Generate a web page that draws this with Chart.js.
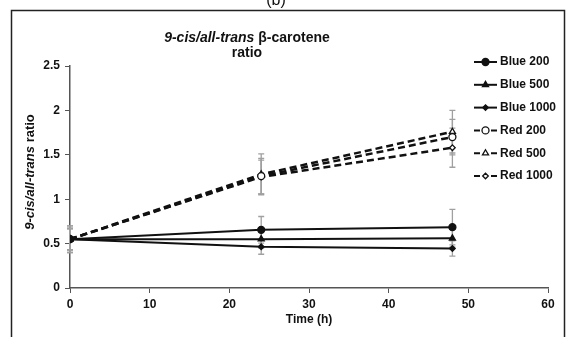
<!DOCTYPE html>
<html>
<head>
<meta charset="utf-8">
<script src="https://cdn.jsdelivr.net/npm/chart.js@4.4.1/dist/chart.umd.min.js"></script>
<style>
  html, body { margin: 0; padding: 0; background: #fff; }
  #wrap { width: 567px; height: 337px; position: relative; }
</style>
</head>
<body>
<div id="wrap"><canvas id="ratioChart" width="567" height="337"></canvas></div>
<script>
// temps de prelevement (h)
var heures = [0, 24, 48];

// rapport 9-cis / all-trans
var blue200 = [0.55, 0.655, 0.685];
var blue500 = [0.55, 0.55, 0.56];
var blue1000 = [0.55, 0.465, 0.445];
var red200 = [0.55, 1.26, 1.70];
var red500 = [0.55, 1.28, 1.76];
var red1000 = [0.55, 1.25, 1.58];

// barres d'erreur (+/-)
var errBlue200 = [0.15, 0.15, 0.2];
var errBlue500 = [0.12, 0.1, 0.1];
var errBlue1000 = [0.12, 0.085, 0.085];
var errRed200 = [0.15, 0.2, 0.2];
var errRed500 = [0.12, 0.23, 0.24];
var errRed1000 = [0.12, 0.19, 0.22];

var xTicks = [0, 10, 20, 30, 40, 50, 60];
var yTicks = [0, 0.5, 1, 1.5, 2, 2.5];

var POLICE = '"Liberation Sans", Arial, sans-serif';

function points(valeurs) {
    var res = [];
    for (var i = 0; i < heures.length; i++) {
        res.push({ x: heures[i], y: valeurs[i] });
    }
    return res;
}

function serie(label, valeurs, erreurs, forme, taille, plein, pointille) {
    return {
        label: label,
        data: points(valeurs),
        erreurs: erreurs,
        borderColor: '#111',
        backgroundColor: plein ? '#111' : '#fff',
        borderWidth: pointille ? 2.5 : 2,
        borderDash: pointille ? [7, 4] : [],
        pointStyle: forme,
        pointRadius: taille,
        pointBorderWidth: 1.3,
        pointBorderColor: '#111',
        pointBackgroundColor: plein ? '#111' : '#fff',
        tension: 0,
        fill: false
    };
}

var datasets = [
    serie('Blue 200', blue200, errBlue200, 'circle', 3.5, true, false),
    serie('Blue 500', blue500, errBlue500, 'triangle', 3.5, true, false),
    serie('Blue 1000', blue1000, errBlue1000, 'rectRot', 2.8, true, false),
    serie('Red 200', red200, errRed200, 'circle', 3.5, false, true),
    serie('Red 500', red500, errRed500, 'triangle', 3.5, false, true),
    serie('Red 1000', red1000, errRed1000, 'rectRot', 2.8, false, true)
];

//------------------------------- barres d'erreur --------------------------------
var barresErreur = {
    id: 'barresErreur',
    beforeDatasetsDraw: function (chart) {
        var ctx = chart.ctx;
        var sx = chart.scales.x, sy = chart.scales.y;
        ctx.save();
        ctx.strokeStyle = '#a0a0a0';
        ctx.lineWidth = 1.3;
        chart.data.datasets.forEach(function (ds) {
            ds.data.forEach(function (p, i) {
                var e = ds.erreurs[i];
                var px = sx.getPixelForValue(p.x);
                var haut = sy.getPixelForValue(p.y + e);
                var bas = sy.getPixelForValue(p.y - e);
                ctx.beginPath();
                ctx.moveTo(px, haut); ctx.lineTo(px, bas);
                ctx.moveTo(px - 3, haut); ctx.lineTo(px + 3, haut);
                ctx.moveTo(px - 3, bas); ctx.lineTo(px + 3, bas);
                ctx.stroke();
            });
        });
        ctx.restore();
    }
};

// texte avec morceaux italiques / droits
function texteMixte(ctx, morceaux, x, y, taille) {
    var total = 0;
    morceaux.forEach(function (m) {
        ctx.font = (m[1] ? 'italic ' : '') + 'bold ' + taille + 'px ' + POLICE;
        total += ctx.measureText(m[0]).width;
    });
    var cx = x - total / 2;
    ctx.textAlign = 'left';
    morceaux.forEach(function (m) {
        ctx.font = (m[1] ? 'italic ' : '') + 'bold ' + taille + 'px ' + POLICE;
        ctx.fillText(m[0], cx, y);
        cx += ctx.measureText(m[0]).width;
    });
}

//------------------------------- titres, cadre, legende --------------------------
var habillage = {
    id: 'habillage',
    afterDraw: function (chart) {
        var ctx = chart.ctx;
        ctx.save();
        ctx.fillStyle = '#111';
        ctx.textBaseline = 'middle';

        // cadre
        ctx.strokeStyle = '#222';
        ctx.lineWidth = 1.5;
        ctx.strokeRect(11.5, 10.5, 553, 340);

        // (b) coupe en haut
        ctx.font = '16px ' + POLICE;
        ctx.textAlign = 'center';
        ctx.fillText('(b)', 276, 1);

        // titre
        texteMixte(ctx, [['9-cis/all-trans', true], [' \u03b2-carotene', false]], 247, 38, 14);
        texteMixte(ctx, [['ratio', false]], 247, 53, 14);

        // titre axe y
        ctx.save();
        ctx.translate(30, 172);
        ctx.rotate(-Math.PI / 2);
        texteMixte(ctx, [['9-cis/all-trans', true], [' ratio', false]], 0, 0, 13);
        ctx.restore();

        // titre axe x
        ctx.font = 'bold 12px ' + POLICE;
        ctx.textAlign = 'center';
        ctx.fillText('Time (h)', 309, 320);

        // legende : trait + marqueur
        chart.data.datasets.forEach(function (ds, i) {
            var y = 62 + i * 22.8;
            ctx.save();
            ctx.strokeStyle = '#111';
            ctx.lineWidth = 2;
            ctx.beginPath();
            if (ds.borderDash.length) {
                ctx.moveTo(474, y); ctx.lineTo(480, y);
                ctx.moveTo(491, y); ctx.lineTo(497, y);
            } else {
                ctx.moveTo(474, y); ctx.lineTo(497, y);
            }
            ctx.stroke();
            ctx.fillStyle = ds.pointBackgroundColor;
            ctx.lineWidth = 1.3;
            Chart.helpers.drawPoint(ctx, {
                pointStyle: ds.pointStyle,
                radius: ds.pointRadius,
                borderWidth: 1.3,
                rotation: 0
            }, 485.5, y);
            ctx.restore();
            ctx.font = 'bold 12px ' + POLICE;
            ctx.textAlign = 'left';
            ctx.fillStyle = '#111';
            ctx.fillText(ds.label, 500, y);
        });
        ctx.restore();
    }
};

//------------------------------- graphique --------------------------------------
new Chart(document.getElementById('ratioChart').getContext('2d'), {
    type: 'line',
    data: { datasets: datasets },
    plugins: [barresErreur, habillage],
    options: {
        responsive: false,
        animation: false,
        layout: { padding: { left: 0, top: 66, right: 19, bottom: 0 } },
        plugins: {
            legend: { display: false },
            title: { display: false },
            tooltip: { enabled: false }
        },
        scales: {
            x: {
                type: 'linear',
                min: 0,
                max: 60,
                afterFit: function (scale) { scale.height = 49; },
                afterBuildTicks: function (scale) {
                    scale.ticks = xTicks.map(function (v) { return { value: v }; });
                },
                grid: { drawOnChartArea: false, drawTicks: true, tickLength: 5, color: '#555', lineWidth: 1 },
                border: { display: true, color: '#555', width: 1.5 },
                ticks: {
                    padding: 4, color: '#111', font: { family: POLICE, size: 12, weight: 'bold' },
                    callback: function (v) { return String(v); }
                }
            },
            y: {
                min: 0,
                max: 2.5,
                afterFit: function (scale) { scale.width = 70; },
                afterBuildTicks: function (scale) {
                    scale.ticks = yTicks.map(function (v) { return { value: v }; });
                },
                grid: { drawOnChartArea: false, drawTicks: true, tickLength: 5, color: '#555', lineWidth: 1 },
                border: { display: true, color: '#555', width: 1.5 },
                ticks: {
                    padding: 5, color: '#111', font: { family: POLICE, size: 12, weight: 'bold' },
                    callback: function (v) { return String(v); }
                }
            }
        }
    }
});
</script>
</body>
</html>
